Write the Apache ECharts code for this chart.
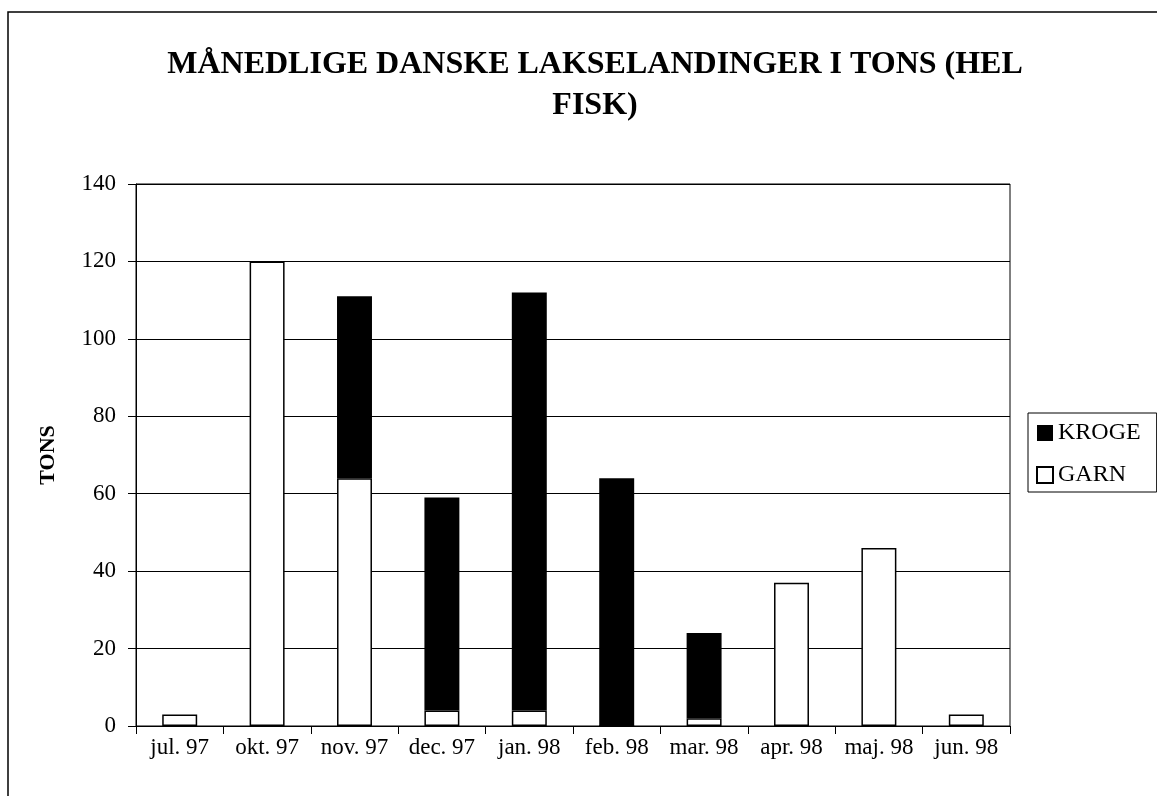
<!DOCTYPE html>
<html>
<head>
<meta charset="utf-8">
<script src="https://cdn.jsdelivr.net/npm/echarts@6/dist/echarts.min.js"></script>
<style>html,body{margin:0;padding:0;background:#fff;}#chart{width:1157px;height:796px;}</style>
</head>
<body>
<div id="chart"></div>
<script>
const categories = ['jul. 97','okt. 97','nov. 97','dec. 97','jan. 98','feb. 98','mar. 98','apr. 98','maj. 98','jun. 98'];
const garn = [3, 120, 64, 4, 4, 0, 2, 37, 46, 3];
const kroge = [null, null, 47, 55, 108, 64, 22, null, null, null];
const yTicks = {min: 0, max: 140, interval: 20};
const FONT = "'Liberation Serif', 'Times New Roman', serif";

const chart = echarts.init(document.getElementById('chart'), null, {renderer: 'canvas'});
chart.setOption({
  backgroundColor: '#fff',
  animation: false,
  textStyle: {fontFamily: FONT, color: '#000'},
  title: {
    text: 'MÅNEDLIGE DANSKE LAKSELANDINGER I TONS (HEL\nFISK)',
    left: 590, top: 39, textAlign: 'center',
    textStyle: {fontFamily: FONT, fontWeight: 'bold', fontSize: 32, lineHeight: 41, color: '#000'}
  },
  graphic: [{
    type: 'rect', silent: true, z: -1,
    shape: {x: 8, y: 12, width: 1300, height: 900},
    style: {fill: 'none', stroke: '#000', lineWidth: 1.5}
  }],
  legend: {
    orient: 'vertical', left: 1028, top: 413,
    borderColor: '#000', borderWidth: 1, borderRadius: 0,
    padding: [8, 16, 5, 8], itemGap: 18,
    itemWidth: 16, itemHeight: 16, icon: 'rect',
    textStyle: {fontFamily: FONT, fontSize: 24, color: '#000'},
    data: ['KROGE', 'GARN']
  },
  grid: {left: 136, right: 147, top: 184, bottom: 70, show: true, borderColor: '#000', borderWidth: 1, containLabel: false},
  xAxis: {
    type: 'category', data: categories,
    axisLine: {lineStyle: {color: '#000', width: 1}},
    axisTick: {show: true, length: 8, interval: 0, alignWithLabel: false, lineStyle: {color: '#000'}},
    axisLabel: {fontFamily: FONT, fontSize: 23, color: '#000', margin: 10, interval: 0}
  },
  yAxis: {
    type: 'value', min: yTicks.min, max: yTicks.max, interval: yTicks.interval,
    name: 'TONS', nameLocation: 'middle', nameRotate: 90, nameGap: 77,
    nameTextStyle: {fontFamily: FONT, fontWeight: 'bold', fontSize: 22, color: '#000'},
    axisLine: {show: true, lineStyle: {color: '#000'}},
    axisTick: {show: true, length: 8, lineStyle: {color: '#000'}},
    axisLabel: {fontFamily: FONT, fontSize: 23, color: '#000', margin: 20},
    splitLine: {show: true, lineStyle: {color: '#000', width: 1}}
  },
  series: [
    {
      name: 'GARN', type: 'bar', stack: 'total', data: garn, barWidth: '40%',
      itemStyle: {color: '#fff', borderColor: '#000', borderWidth: 1.5}
    },
    {
      name: 'KROGE', type: 'bar', stack: 'total', data: kroge, barWidth: '40%',
      itemStyle: {color: '#000', borderColor: '#000', borderWidth: 0}
    }
  ]
});
</script>
</body>
</html>
